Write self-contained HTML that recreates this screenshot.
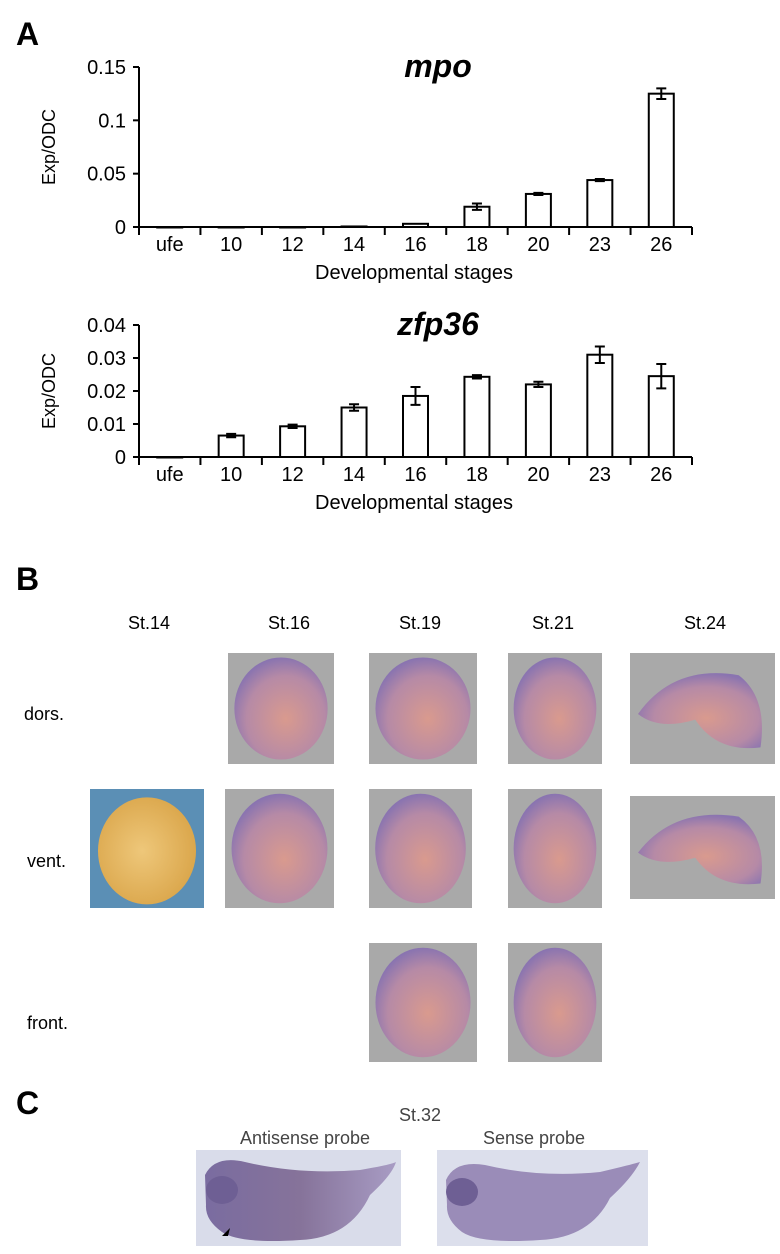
<!DOCTYPE html>
<html><head><meta charset="utf-8"><style>
body{margin:0;background:#fff;}
svg{display:block;font-family:"Liberation Sans",Arial,sans-serif;}
</style></head><body>
<svg id="fig" width="780" height="1254" viewBox="0 0 780 1254">
<defs>
<radialGradient id="emb" cx="55%" cy="60%" r="60%"><stop offset="0" stop-color="#d99a8e"/><stop offset="0.7" stop-color="#b68aa6"/><stop offset="1" stop-color="#8a74b0"/></radialGradient>
<radialGradient id="egg" cx="45%" cy="50%" r="60%"><stop offset="0" stop-color="#eec77a"/><stop offset="1" stop-color="#d9a448"/></radialGradient>
<linearGradient id="tad" x1="0" x2="1"><stop offset="0" stop-color="#7a6ca0"/><stop offset="0.5" stop-color="#86739a"/><stop offset="1" stop-color="#a89cc4"/></linearGradient>
</defs>
<text x="16" y="45" font-size="32" font-weight="bold">A</text>
<g id="c1"></g>
<g id="c2"></g>

<text x="16" y="590" font-size="32" font-weight="bold">B</text>
<g font-size="18" text-anchor="middle">
<text x="149" y="629">St.14</text>
<text x="289" y="629">St.16</text>
<text x="420" y="629">St.19</text>
<text x="553" y="629">St.21</text>
<text x="705" y="629">St.24</text>
</g>
<g font-size="18">
<text x="24" y="720">dors.</text>
<text x="27" y="867">vent.</text>
<text x="27" y="1029">front.</text>
</g>
<g id="photos"></g>

<text x="16" y="1114" font-size="32" font-weight="bold">C</text>
<g font-size="18" fill="#444" text-anchor="middle">
<text x="420" y="1121">St.32</text>
<text x="305" y="1144">Antisense probe</text>
<text x="534" y="1144">Sense probe</text>
</g>
<g>
<rect x="196" y="1150" width="205" height="96" fill="#d9dcea"/>
<path d="M205 1175 Q215 1155 245 1162 Q300 1175 360 1170 Q390 1165 396 1162 Q392 1175 370 1195 Q350 1238 300 1240 Q240 1244 222 1232 Q205 1220 206 1205 Z" fill="url(#tad)"/>
<ellipse cx="222" cy="1190" rx="16" ry="14" fill="#6e5f94"/>
<path d="M222 1236 l8 -8 l-2 8 z" fill="#000"/>
</g>
<g>
<rect x="437" y="1150" width="211" height="96" fill="#dcdfec"/>
<path d="M446 1180 Q455 1160 485 1165 Q540 1178 600 1172 Q630 1165 640 1162 Q632 1178 610 1198 Q590 1238 540 1240 Q480 1244 462 1232 Q446 1220 447 1205 Z" fill="#9a8cb8"/>
<ellipse cx="462" cy="1192" rx="16" ry="14" fill="#6e5f94"/>
</g>
</svg>
<script>
const categories=["ufe","10","12","14","16","18","20","23","26"];
const mpoValues=[0,0,0,0.0005,0.003,0.019,0.031,0.044,0.125];
const mpoErrors=[0,0,0,0,0,0.003,0.001,0.001,0.005];
const mpoTicks=[0,0.05,0.1,0.15];
const mpoTickLabels=["0","0.05","0.1","0.15"];
const zfpValues=[0,0.0065,0.0093,0.015,0.0185,0.0243,0.022,0.031,0.0245];
const zfpErrors=[0,0.0005,0.0005,0.001,0.0027,0.0005,0.0008,0.0025,0.0037];
const zfpTicks=[0,0.01,0.02,0.03,0.04];
const zfpTickLabels=["0","0.01","0.02","0.03","0.04"];
const NS="http://www.w3.org/2000/svg";
function mk(tag,attrs,parent,txt){const e=document.createElementNS(NS,tag);for(const k in attrs)e.setAttribute(k,attrs[k]);if(txt!==undefined)e.textContent=txt;parent.appendChild(e);return e;}
function chart(g,title,vals,errs,ticks,tlabels,max,top,zero){
  const x0=139,x1=692,cw=(x1-x0)/categories.length;
  const y=v=>zero-(v/max)*(zero-top);
  const xs=i=>x0+cw*(i+0.5);
  let t=mk('text',{x:438,y:top+10,'font-size':32,'font-weight':'bold','font-style':'italic','text-anchor':'middle'},g,title);
  
  
  let yl=mk('text',{x:0,y:0,'font-size':18,'text-anchor':'middle',transform:`translate(55,${(top+zero)/2}) rotate(-90)`},g,'Exp/ODC');
  
  
  let ax=mk('path',{d:`M${x0} ${top}V${zero+8}M${x0} ${zero}H${x1}`,stroke:'#000','stroke-width':2,fill:'none'},g);
  
  
  ticks.forEach((v,i)=>{
    mk('line',{x1:x0-6,x2:x0,y1:y(v),y2:y(v),stroke:'#000','stroke-width':2},g);
    let tl=mk('text',{x:x0-13,y:y(v)+7,'font-size':20,'text-anchor':'end'},g,tlabels[i]);
    
    
  });
  for(let i=1;i<=categories.length;i++){mk('line',{x1:x0+cw*i,x2:x0+cw*i,y1:zero,y2:zero+8,stroke:'#000','stroke-width':2},g);}
  categories.forEach((c,i)=>{
    let xl=mk('text',{x:xs(i),y:zero+24,'font-size':20,'text-anchor':'middle'},g,c);
    
    
    const h=zero-y(vals[i]);
    let b=mk('rect',{x:xs(i)-12.5,y:y(vals[i]),width:25,height:Math.max(h,0.5),fill:'#fff',stroke:'#000','stroke-width':2},g);
    
    
    if(errs[i]>0){
      const a=y(vals[i]+errs[i]),bb=y(vals[i]-errs[i]);
      let e=mk('path',{d:`M${xs(i)} ${a}V${bb}M${xs(i)-5} ${a}H${xs(i)+5}M${xs(i)-5} ${bb}H${xs(i)+5}`,stroke:'#000','stroke-width':2,fill:'none'},g);
      
      
    }
  });
  let xt=mk('text',{x:414,y:zero+52,'font-size':20,'text-anchor':'middle'},g,'Developmental stages');
  
  
}
chart(document.getElementById('c1'),'mpo',mpoValues,mpoErrors,mpoTicks,mpoTickLabels,0.15,67,227);
chart(document.getElementById('c2'),'zfp36',zfpValues,zfpErrors,zfpTicks,zfpTickLabels,0.04,325,457);
const ph=document.getElementById('photos');
const photos=[
 ['st16-dors',228,653,106,111,'e'],['st19-dors',369,653,108,111,'e'],['st21-dors',508,653,94,111,'e'],['st24-dors',630,653,145,111,'t'],
 ['st14-vent',90,789,114,119,'g'],['st16-vent',225,789,109,119,'e'],['st19-vent',369,789,103,119,'e'],['st21-vent',508,789,94,119,'e'],['st24-vent',630,796,145,103,'t'],
 ['st19-front',369,943,108,119,'e'],['st21-front',508,943,94,119,'e']];
photos.forEach(p=>{
  const g=mk('g',{},ph);
  
  
  const [n,x,y,w,h,k]=p;
  mk('rect',{x:x,y:y,width:w,height:h,fill:k==='g'?'#5b8fb5':'#a9a9a9'},g);
  if(k==='g') mk('ellipse',{cx:x+w*0.5,cy:y+h*0.52,rx:w*0.43,ry:h*0.45,fill:'url(#egg)'},g);
  else if(k==='e') mk('ellipse',{cx:x+w*0.5,cy:y+h*0.5,rx:w*0.44,ry:h*0.46,fill:'url(#emb)'},g);
  else mk('path',{d:`M${x+8} ${y+h*0.55} Q${x+w*0.3} ${y+h*0.1} ${x+w*0.75} ${y+h*0.2} Q${x+w*0.95} ${y+h*0.4} ${x+w*0.9} ${y+h*0.85} Q${x+w*0.6} ${y+h*0.9} ${x+w*0.45} ${y+h*0.6} Q${x+w*0.2} ${y+h*0.7} ${x+8} ${y+h*0.55}Z`,fill:'url(#emb)'},g);
});
</script>
</body></html>
